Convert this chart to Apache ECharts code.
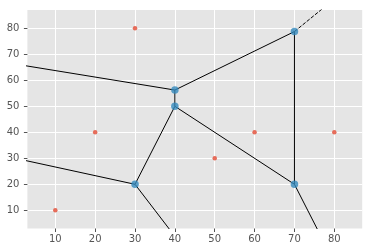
<!DOCTYPE html>
<html><head><meta charset="utf-8">
<script src="https://cdn.jsdelivr.net/npm/echarts@6/dist/echarts.min.js"></script>
<style>html,body{margin:0;padding:0;background:#fff}#c{width:372px;height:252px}</style>
</head><body><div id="c"></div>
<script>
// input points (red)
const pointsX = [10, 20, 30, 50, 60, 80];
const pointsY = [10, 40, 80, 30, 40, 40];
// Voronoi vertices (blue)
const vertX = [30, 40, 40, 70, 70];
const vertY = [20, 50, 56.25, 20, 78.75];
// finite ridges: pairs of vertex indices
const ridges = [[0,1],[1,2],[1,3],[2,4],[4,3]];
// infinite ridges: start vertex index and far point
const rayStart = [0, 0, 2, 4, 3];
const rayFarX = [-36.4, 61.3, -27.9, 113.7, 92.1];
const rayFarY = [42.1, -42.6, 73.2, 133.4, -46.4];
const rayDashed = [false, false, false, true, false];
// axis ticks
const xTicks = [10,20,30,40,50,60,70,80];
const yTicks = [10,20,30,40,50,60,70,80];

const series = [];
ridges.forEach(r => {
  series.push({type:'line', data:[[vertX[r[0]],vertY[r[0]]],[vertX[r[1]],vertY[r[1]]]],
    showSymbol:false, symbol:'none', clip:true, silent:true, z:2,
    lineStyle:{color:'#000', width:1}});
});
rayStart.forEach((s,i) => {
  series.push({type:'line', data:[[vertX[s],vertY[s]],[rayFarX[i],rayFarY[i]]],
    showSymbol:false, symbol:'none', clip:true, silent:true, z:2,
    lineStyle:{color:'#000', width:1, type: rayDashed[i] ? [3.7,1.6] : 'solid'}});
});
series.push({type:'scatter', data: pointsX.map((x,i)=>[x,pointsY[i]]), symbolSize:4.5, z:3,
  itemStyle:{color:'#E24A33'}});
series.push({type:'scatter', data: vertX.map((x,i)=>[x,vertY[i]]), symbolSize:7.5, z:4,
  itemStyle:{color:'#348ABD'}});

function axis(ticks){
  return {type:'value', min:3, max:87, minInterval:10, maxInterval:10,
    axisLine:{show:false},
    axisTick:{show:true, length:3.5, lineStyle:{color:'#555', width:1},
      customValues: ticks},
    axisLabel:{color:'#555', fontSize:10, fontFamily:'DejaVu Sans', customValues: ticks},
    splitLine:{show:true, lineStyle:{color:'#fff', width:1}}};
}
const xa = axis(xTicks); xa.axisLabel.margin = 6;
const ya = axis(yTicks); ya.axisLabel.margin = 8;
const chart = echarts.init(document.getElementById('c'), null, {renderer:'canvas'});
chart.setOption({
  animation:false,
  backgroundColor:'#fff',
  grid:{left:27.4, right:9.8, top:10.1, bottom:23.5, show:true, backgroundColor:'#E5E5E5', borderWidth:0},
  xAxis: xa, yAxis: ya,
  series
});
</script></body></html>
